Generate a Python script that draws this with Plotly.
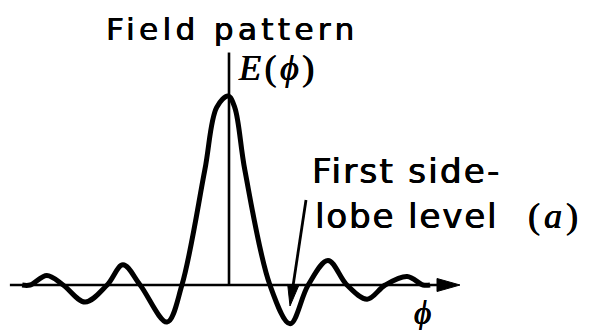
import plotly.graph_objects as go

# Field pattern E(phi): zero crossings and lobe extrema (phi in main-lobe half-width units)
phi = [-4.70, -4.52, -4.14, -3.77, -3.27, -2.77, -2.41, -2.02, -1.41, -1.07,
       -0.55, -0.28, -0.02, 0.13, 0.36, 0.93, 1.39, 1.80, 2.25, 2.68,
       3.14, 3.55, 4.05, 4.41, 4.57]
field = [0.0, 0.0, 0.05, 0.0, -0.09, 0.0, 0.107, 0.0, -0.196, 0.0,
         0.608, 0.94, 1.0, 0.94, 0.608, 0.0, -0.205, 0.0, 0.13, 0.0,
         -0.075, 0.0, 0.045, 0.0, 0.0]

# Axes extents (data units)
phi_axis = [-4.98, 5.25]
e_axis = [0.0, 1.23]

W, H = 589, 330
X0_PX, Y0_PX = 229, 285          # where phi=0, E=0 sits on the page
PX_PER_PHI, PX_PER_E = 44.0, 189.0


def dx(px):
    return (px - X0_PX) / PX_PER_PHI


def dy(py):
    return (Y0_PX - py) / PX_PER_E


def head_path(tail_px, tip_px, length, half_w):
    """Filled arrowhead (data coords) built in page pixels."""
    tx, ty = tip_px
    vx, vy = tx - tail_px[0], ty - tail_px[1]
    n = (vx ** 2 + vy ** 2) ** 0.5
    ux, uy = vx / n, vy / n
    bx, by = tx - ux * length, ty - uy * length
    p1 = (bx - uy * half_w, by + ux * half_w)
    p2 = (bx + uy * half_w, by - ux * half_w)
    return "M{},{} L{},{} L{},{} Z".format(dx(tx), dy(ty), dx(p1[0]), dy(p1[1]),
                                          dx(p2[0]), dy(p2[1]))


fig = go.Figure()

# horizontal phi axis (line part, head drawn as shape)
axis_head_len = 23.0
axis_end_px = X0_PX + phi_axis[1] * PX_PER_PHI
fig.add_trace(go.Scatter(
    x=[phi_axis[0], phi_axis[1] - axis_head_len / PX_PER_PHI + 0.05], y=[0, 0],
    mode="lines", line=dict(color="black", width=2.4), hoverinfo="skip"))

# vertical E axis
fig.add_trace(go.Scatter(
    x=[0, 0], y=e_axis, mode="lines",
    line=dict(color="black", width=2.6), hoverinfo="skip"))

# the pattern
fig.add_trace(go.Scatter(
    x=phi, y=field, mode="lines", line_shape="spline",
    line=dict(color="black", width=5, smoothing=1.0), hoverinfo="skip"))

shapes = [
    dict(type="path", xref="x", yref="y",
         path=head_path((axis_end_px - 30, Y0_PX), (axis_end_px, Y0_PX), axis_head_len, 6.5),
         fillcolor="black", line=dict(color="black", width=1)),
]

# pointer to the first side lobe
tail_px, tip_px = (306, 200), (290, 306)
shapes.append(dict(type="line", xref="x", yref="y",
                   x0=dx(tail_px[0]), y0=dy(tail_px[1]),
                   x1=dx(291.5), y1=dy(296),
                   line=dict(color="black", width=2.8)))
shapes.append(dict(type="path", xref="x", yref="y",
                   path=head_path(tail_px, tip_px, 21, 5.5),
                   fillcolor="black", line=dict(color="black", width=1)))

sans = "DejaVu Sans"
serif = "Liberation Serif"
heavy = "0.5px 0 0 #000, -0.3px 0 0 #000"


def label(text, x_px, y_px, size, family, xanchor="left"):
    return dict(text=text, xref="paper", yref="paper", x=x_px / W, y=1 - y_px / H,
                xanchor=xanchor, yanchor="middle", showarrow=False,
                font=dict(family=family, size=size, color="black", shadow=heavy))


annotations = [
    label('<span style="letter-spacing:4.4px">Field pattern</span>', 104, 29.5, 31, sans),
    label('<span style="letter-spacing:3.5px"><i>E</i>(<i>ϕ</i>)</span>', 236, 68, 36, serif),
    label('<span style="letter-spacing:2.3px">First side-</span>', 310, 171, 34, sans),
    label('<span style="letter-spacing:1.9px">lobe level</span>', 313, 216, 34, sans),
    label('<span style="letter-spacing:4px">(<i>a</i>)</span>', 526, 216, 36, serif),
    label('<i>ϕ</i>', 422.5, 313, 33, serif, xanchor="center"),
]

fig.update_layout(
    width=W, height=H, autosize=False,
    margin=dict(l=0, r=0, t=0, b=0),
    paper_bgcolor="white", plot_bgcolor="white",
    showlegend=False,
    xaxis=dict(range=[dx(0), dx(W)], visible=False, fixedrange=True),
    yaxis=dict(range=[dy(H), dy(0)], visible=False, fixedrange=True),
    shapes=shapes, annotations=annotations,
)

fig.write_html("out.html")
